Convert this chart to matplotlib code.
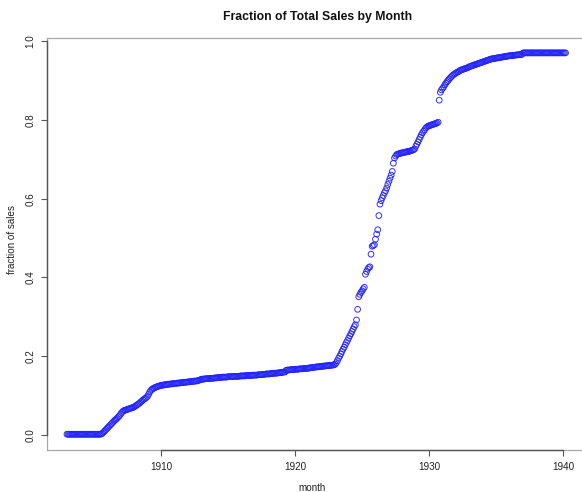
import numpy as np
import matplotlib
matplotlib.use("Agg")
import matplotlib.pyplot as plt
import matplotlib.transforms as mtransforms

# Monthly cumulative fraction of sales, Jan 1903 .. Mar 1940 (one list per year)
start_year = 1903
yearly_fractions = {
    1903: [.002] * 12,
    1904: [.002] * 12,
    1905: [.002, .002, .002, .002, .002, .002, .002, .003, .005, .008, .011, .014],
    1906: [.017, .020, .023, .026, .029, .032, .035, .038, .040, .043, .046, .049],
    1907: [.053, .057, .060, .062, .063, .064, .065, .066, .067, .068, .069, .070],
    1908: [.071, .073, .075, .077, .079, .081, .084, .086, .089, .091, .093, .095],
    1909: [.098, .103, .109, .113, .116, .118, .119, .121, .122, .123, .124, .125],
    1910: [.126, .126, .127, .127, .128, .128, .129, .129, .129, .130, .130, .130],
    1911: [.131, .131, .131, .132, .132, .132, .133, .133, .133, .134, .134, .134],
    1912: [.135, .135, .135, .136, .136, .136, .137, .137, .137, .138, .139, .140],
    1913: [.141, .142, .142, .142, .143, .143, .143, .143, .144, .144, .144, .144],
    1914: [.145, .145, .145, .146, .146, .146, .146, .147, .147, .147, .147, .147],
    1915: [.148, .148, .148, .148, .148, .149, .149, .149, .149, .149, .149, .150],
    1916: [.150, .150, .150, .150, .151, .151, .151, .151, .151, .151, .152, .152],
    1917: [.152, .152, .152, .153, .153, .153, .153, .154, .154, .154, .155, .155],
    1918: [.155, .155, .156, .156, .156, .157, .157, .157, .157, .158, .158, .158],
    1919: [.159, .159, .160, .160, .164, .165, .165, .165, .166, .166, .166, .166],
    1920: [.167, .167, .167, .167, .168, .168, .168, .168, .169, .169, .169, .169],
    1921: [.170, .170, .171, .171, .172, .172, .172, .173, .173, .173, .174, .174],
    1922: [.174, .175, .175, .175, .176, .176, .176, .177, .177, .177, .178, .178],
    1923: [.180, .184, .189, .195, .200, .206, .212, .218, .223, .229, .235, .240],
    1924: [.246, .252, .257, .263, .269, .275, .280, .292, .319, .351, .357, .362],
    1925: [.366, .371, .375, .408, .415, .421, .425, .427, .459, .479, .481, .483],
    1926: [.497, .510, .521, .557, .586, .595, .602, .608, .615, .620, .627, .636],
    1927: [.644, .652, .660, .669, .690, .703, .708, .712, .713, .714, .715, .716],
    1928: [.716, .717, .718, .718, .719, .720, .720, .721, .722, .723, .724, .726],
    1929: [.733, .738, .744, .750, .756, .762, .767, .771, .775, .779, .782, .784],
    1930: [.785, .786, .787, .788, .789, .790, .791, .792, .794, .850, .870, .876],
    1931: [.880, .884, .889, .893, .897, .900, .904, .907, .910, .913, .915, .917],
    1932: [.919, .921, .922, .924, .926, .927, .928, .929, .930, .931, .932, .933],
    1933: [.935, .936, .937, .938, .939, .940, .941, .942, .943, .944, .945, .946],
    1934: [.947, .948, .949, .950, .951, .952, .953, .954, .955, .955, .956, .956],
    1935: [.957, .957, .958, .958, .959, .959, .960, .960, .961, .961, .962, .962],
    1936: [.963, .963, .963, .964, .964, .964, .965, .965, .965, .966, .966, .966],
    1937: [.970] * 12,
    1938: [.970] * 12,
    1939: [.970] * 12,
    1940: [.970, .970, .970],
}

x_ticks = [1910, 1920, 1930, 1940]
y_ticks = [0.0, 0.2, 0.4, 0.6, 0.8, 1.0]
y_tick_labels = ["0.0", "0.2", "0.4", "0.6", "0.8", "1.0"]

months = []
fractions = []
for yr in sorted(yearly_fractions):
    for m, v in enumerate(yearly_fractions[yr]):
        months.append(yr + m / 12.0)
        fractions.append(v)
months = np.array(months)
fractions = np.array(fractions)

plt.rcParams['font.family'] = ['Liberation Sans', 'DejaVu Sans']

W, H = 582, 492
fig = plt.figure(figsize=(W / 100, H / 100), dpi=100)
# axes box in pixels: left 47, right ~585.5 (cropped), top 37.6, bottom 450.3
left, right, top, bottom = 47, 585.5, 37.6, 450.3
ax = fig.add_axes([left / W, (H - bottom) / H, (right - left) / W, (bottom - top) / H])

ax.scatter(months, fractions, s=17, facecolors='none', edgecolors='#2424ff',
           linewidths=0.65, zorder=3)

# R-style 4% range extension
xr = months.max() - months.min()
ax.set_xlim(months.min() - 0.04 * xr, months.max() + 0.04 * xr)
yr_ = fractions.max() - 0.0
ax.set_ylim(0.0 - 0.04 * yr_, fractions.max() + 0.04 * yr_)

for s in ax.spines.values():
    s.set_color('#a8a8a8')
    s.set_linewidth(0.9)

ax.set_xticks(x_ticks)
ax.set_xticklabels([str(t) for t in x_ticks])
ax.set_yticks(y_ticks)
ax.set_yticklabels(y_tick_labels, rotation=90, va='center')
ax.tick_params(axis='both', direction='out', length=4, width=0.8, color='#555555',
               labelsize=7.1, labelcolor='#222222')
ax.tick_params(axis='x', pad=4.5)
ax.tick_params(axis='y', pad=4.5)

# darker axis lines spanning first to last tick (R axis style)
tb = mtransforms.blended_transform_factory(ax.transData, ax.transAxes)
ax.plot([x_ticks[0], x_ticks[-1]], [0, 0], transform=tb, color='#555555', lw=1.0,
        clip_on=False, zorder=4)
tl = mtransforms.blended_transform_factory(ax.transAxes, ax.transData)
ax.plot([0, 0], [y_ticks[0], y_ticks[-1]], transform=tl, color='#555555', lw=1.0,
        clip_on=False, zorder=4)

fig.text(318 / W, 1 - 17 / H, "Fraction of Total Sales by Month", ha='center', va='center',
         fontsize=8.8, fontweight='bold', color='#111111')
fig.text(312 / W, 1 - 488 / H, "month", ha='center', va='center', fontsize=7.1, color='#222222')
fig.text(12 / W, 1 - 240 / H, "fraction of sales", ha='center', va='center', rotation=90,
         fontsize=7.1, color='#222222')

fig.savefig("out.png", dpi=100)
